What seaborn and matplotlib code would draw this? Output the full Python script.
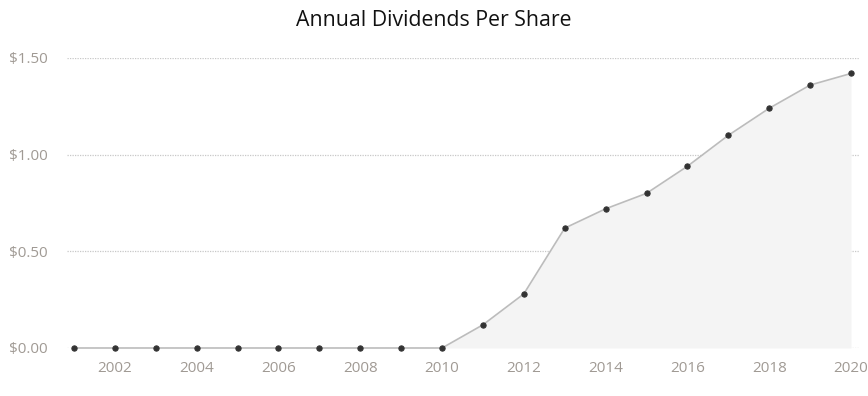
import matplotlib
matplotlib.use("Agg")
import matplotlib.pyplot as plt
import seaborn as sns
import pandas as pd

years = list(range(2001, 2021))
dividends = [0, 0, 0, 0, 0, 0, 0, 0, 0, 0,
             0.12, 0.28, 0.62, 0.72, 0.80, 0.94, 1.10, 1.24, 1.36, 1.42]
yticks = [0, 0.5, 1.0, 1.5]
ytick_labels = ["$0.00", "$0.50", "$1.00", "$1.50"]
xticks = list(range(2002, 2021, 2))
title = "Annual Dividends Per Share"

df = pd.DataFrame({"year": years, "div": dividends})

sns.set_theme(style="white")
plt.rcParams["font.family"] = ["Open Sans", "DejaVu Sans"]

fig = plt.figure(figsize=(8.68, 3.96), dpi=100)
ax = fig.add_axes([67 / 868, 48 / 396, (860 - 67) / 868, (348 - 58) / 396])

ax.fill_between(df["year"], df["div"], 0, color="#f4f4f4", zorder=1, lw=0)
sns.lineplot(data=df, x="year", y="div", ax=ax, color="#bcbcbc", lw=1.2,
             marker="o", markersize=3.8, markerfacecolor="#333333",
             markeredgecolor="#333333", zorder=3, clip_on=False)

ax.set_xlim(2000.83, 2020.22)
ax.set_ylim(0, 1.5)
ax.set_yticks(yticks)
ax.set_yticklabels(ytick_labels)
ax.set_xticks(xticks)
ax.set_xticklabels([str(x) for x in xticks])
for y in yticks:
    ax.axhline(y, color="#c8c8c8", lw=0.9, ls=(0, (1, 1)), zorder=0)

for s in ax.spines.values():
    s.set_visible(False)
ax.tick_params(axis="y", length=0, pad=13.7, labelsize=11, labelcolor="#a09a94")
ax.tick_params(axis="x", length=5, width=0.9, color="#cccccc", pad=4,
               labelsize=11, labelcolor="#a09a94", direction="out")
ax.set_xlabel("")
ax.set_ylabel("")
ax.grid(False)
ax.patch.set_alpha(0)

fig.text(434 / 868, 1 - 20 / 396, title, ha="center", va="center",
         fontsize=15.3, color="#111111")

fig.savefig("out.png", dpi=100)
